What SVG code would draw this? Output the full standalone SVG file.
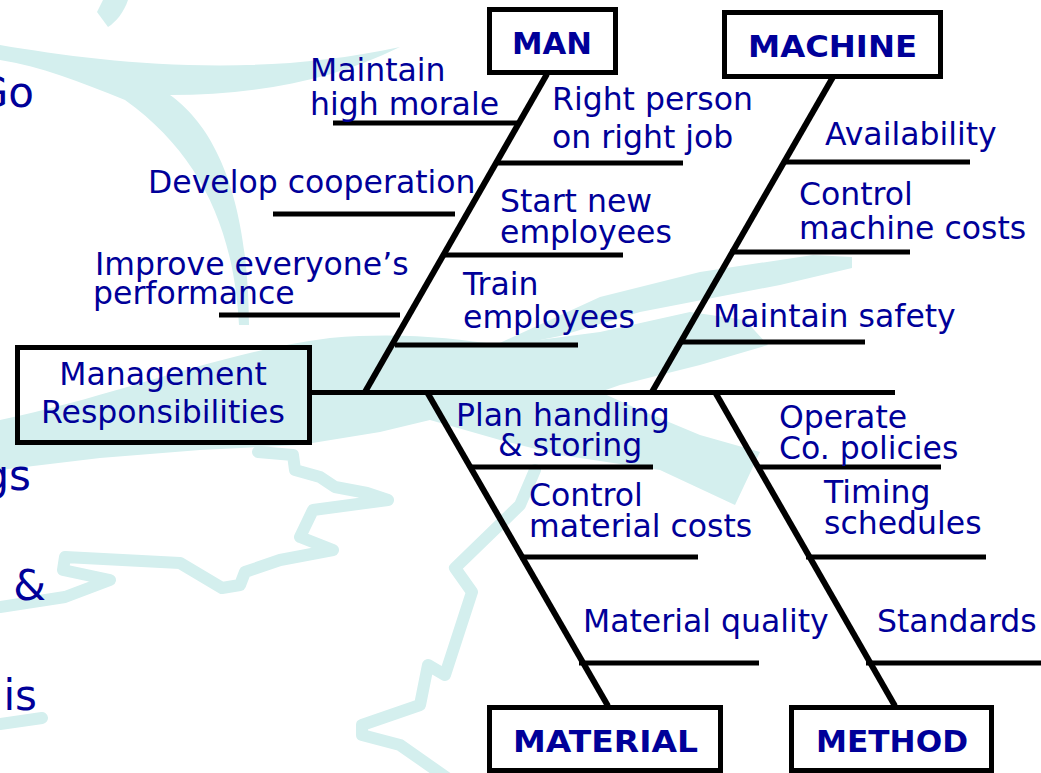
<svg xmlns="http://www.w3.org/2000/svg" width="1041" height="773" viewBox="0 0 1041 773">
  <style>
    .wm { fill: #d4efee; stroke: none; }
    .wml { fill: none; stroke: #d4efee; stroke-width: 12; stroke-linejoin: round; stroke-linecap: round; }
    .box { fill: none; stroke: #000; stroke-width: 5; }
    .bone { stroke: #000; stroke-width: 5; fill: none; }
    .spine { stroke: #000; stroke-width: 6; fill: none; }
    .lbl { font-family: "DejaVu Sans", Verdana, sans-serif; font-size: 31.5px; fill: #000099; }
    .head { font-family: "DejaVu Sans", Verdana, sans-serif; font-size: 31px; font-weight: bold; fill: #000099; }
    .side { font-family: "DejaVu Sans", Verdana, sans-serif; font-size: 42px; fill: #000099; }
  </style>

  <rect width="1041" height="773" fill="#ffffff"/>

  <!-- background watermark -->
  <g id="watermark">
    <path class="wm" d="M103,0 L128,0 C124,12 116,22 108,27 L97,12 Z"/>
    <path class="wm" d="M0,45 C100,62 250,80 400,47 C330,82 250,95 170,95 C212,125 248,190 249,325 L239,325 C234,232 202,155 125,100 C80,82 40,66 0,60 Z"/>
    <path class="wm" d="M0,420 C120,395 220,352 330,338 C400,332 450,338 500,345 L600,332 L690,312 L745,320 L768,345 L700,365 L620,385 L600,392 L640,410 L700,435 L760,452 L735,505 L660,470 L560,455 L500,440 L430,420 L380,432 L300,445 L200,450 L100,458 L0,470 Z"/>
    <path class="wm" d="M480,352 L600,297 L700,272 L813,255 L852,257 L852,268 L780,285 L640,312 L560,336 Z"/>
    <path class="wml" d="M258,452 L293,455 L295,470 L320,477 L335,487 L367,493 L388,500 L313,510 L300,537 L333,550 L280,560 L245,572 L240,585 L222,588 L180,563 L65,557 L63,570 L110,580 L65,597 L0,607"/>
    <path class="wml" d="M535,470 L520,505 L455,568 L472,592 L445,675 L428,665 L420,705 L362,725 L362,735 L400,745 L450,780"/>
    <path class="wml" d="M0,724 L42,718"/>
  </g>

  <!-- partial slide text at the left edge -->
  <g id="side-text">
    <text class="side" x="34" y="107" text-anchor="end">Go</text>
    <text class="side" x="31" y="490" text-anchor="end">gs</text>
    <text class="side" x="46" y="600" text-anchor="end">&amp;</text>
    <text class="side" x="37" y="710" text-anchor="end">is</text>
  </g>

  <!-- bones -->
  <g id="connectors">
    <line class="bone" x1="310" y1="392.5" x2="895" y2="392.5"/>
    <line class="spine" x1="547" y1="74" x2="365" y2="392"/>
    <line class="spine" x1="833" y1="77" x2="652" y2="392"/>
    <line class="spine" x1="427" y1="392" x2="608" y2="706"/>
    <line class="spine" x1="715" y1="392" x2="895" y2="706"/>
    <!-- MAN branches -->
    <line class="bone" x1="333" y1="123" x2="517" y2="123"/>
    <line class="bone" x1="273" y1="214" x2="455" y2="214"/>
    <line class="bone" x1="219" y1="315" x2="400" y2="315"/>
    <line class="bone" x1="496" y1="163" x2="683" y2="163"/>
    <line class="bone" x1="444" y1="255" x2="623" y2="255"/>
    <line class="bone" x1="395" y1="345" x2="578" y2="345"/>
    <!-- MACHINE branches -->
    <line class="bone" x1="786" y1="162" x2="970" y2="162"/>
    <line class="bone" x1="730" y1="252" x2="910" y2="252"/>
    <line class="bone" x1="681" y1="342" x2="865" y2="342"/>
    <!-- MATERIAL branches -->
    <line class="bone" x1="470" y1="467" x2="653" y2="467"/>
    <line class="bone" x1="520" y1="557" x2="698" y2="557"/>
    <line class="bone" x1="579" y1="663" x2="759" y2="663"/>
    <!-- METHOD branches -->
    <line class="bone" x1="758" y1="467" x2="941" y2="467"/>
    <line class="bone" x1="806" y1="557" x2="986" y2="557"/>
    <line class="bone" x1="866" y1="663" x2="1041" y2="663"/>
  </g>

  <g id="effect">
    <rect class="box" x="17.5" y="347.5" width="292" height="95"/>
    <text class="lbl" x="163" y="385" text-anchor="middle">Management</text>
    <text class="lbl" x="163" y="423" text-anchor="middle">Responsibilities</text>
  </g>

  <g id="man">
    <rect class="box" x="489.5" y="9.5" width="126" height="63"/>
    <text class="head" x="512" y="54" textLength="80" lengthAdjust="spacingAndGlyphs">MAN</text>
  </g>
  <g id="machine">
    <rect class="box" x="724.5" y="12.5" width="216" height="64"/>
    <text class="head" x="748" y="57" textLength="169" lengthAdjust="spacingAndGlyphs">MACHINE</text>
  </g>
  <g id="material">
    <rect class="box" x="489.5" y="707.5" width="231" height="63"/>
    <text class="head" x="513" y="752" textLength="185" lengthAdjust="spacingAndGlyphs">MATERIAL</text>
  </g>
  <g id="method">
    <rect class="box" x="791.5" y="707.5" width="200" height="63"/>
    <text class="head" x="816" y="752" textLength="152" lengthAdjust="spacingAndGlyphs">METHOD</text>
  </g>

  <!-- MAN causes -->
  <g id="man-causes">
    <text class="lbl" x="310" y="81">Maintain</text>
    <text class="lbl" x="310" y="115">high morale</text>
    <text class="lbl" x="148" y="193">Develop cooperation</text>
    <text class="lbl" x="95" y="275">Improve everyone’s</text>
    <text class="lbl" x="93" y="304">performance</text>
    <text class="lbl" x="552" y="110">Right person</text>
    <text class="lbl" x="552" y="148">on right job</text>
    <text class="lbl" x="500" y="212">Start new</text>
    <text class="lbl" x="500" y="243">employees</text>
    <text class="lbl" x="463" y="295">Train</text>
    <text class="lbl" x="463" y="328">employees</text>
  </g>

  <!-- MACHINE causes -->
  <g id="machine-causes">
    <text class="lbl" x="825" y="145">Availability</text>
    <text class="lbl" x="799" y="205">Control</text>
    <text class="lbl" x="799" y="239">machine costs</text>
    <text class="lbl" x="713" y="327">Maintain safety</text>
  </g>

  <!-- MATERIAL causes -->
  <g id="material-causes">
    <text class="lbl" x="456" y="426">Plan handling</text>
    <text class="lbl" x="498" y="456">&amp; storing</text>
    <text class="lbl" x="529" y="506">Control</text>
    <text class="lbl" x="529" y="537">material costs</text>
    <text class="lbl" x="583" y="632">Material quality</text>
  </g>

  <!-- METHOD causes -->
  <g id="method-causes">
    <text class="lbl" x="779" y="428">Operate</text>
    <text class="lbl" x="779" y="459">Co. policies</text>
    <text class="lbl" x="824" y="503">Timing</text>
    <text class="lbl" x="824" y="534">schedules</text>
    <text class="lbl" x="877" y="632">Standards</text>
  </g>
</svg>
